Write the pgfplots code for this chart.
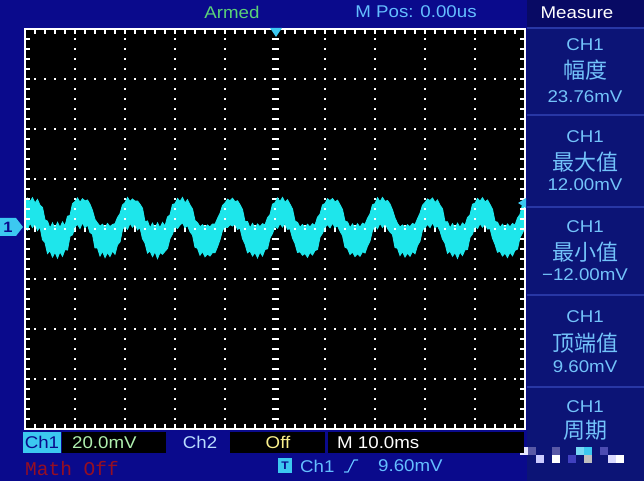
\documentclass[border=0pt]{standalone}
\usepackage{pgfplots}
\pgfplotsset{compat=1.18}
\usepackage{pgfplotstable}
\usepackage{fontspec}
\setmainfont[FakeStretch=1.1]{Liberation Sans}
\newfontfamily\cjk{Noto Sans CJK SC}
\newfontfamily\monof{Liberation Mono}

\definecolor{scopebg}{RGB}{10,10,140}
\definecolor{panelbg}{RGB}{12,20,118}
\definecolor{panelsep}{RGB}{40,55,165}
\definecolor{headbg}{RGB}{8,10,100}
\definecolor{trace}{RGB}{30,230,235}
\definecolor{chcyan}{RGB}{60,200,240}
\definecolor{ptext}{RGB}{115,195,250}
\definecolor{armed}{RGB}{90,210,120}
\definecolor{mpos}{RGB}{100,190,255}
\definecolor{vgreen}{RGB}{175,240,175}
\definecolor{offyel}{RGB}{250,240,140}
\definecolor{mathred}{RGB}{150,15,35}
\definecolor{ch2col}{RGB}{185,220,255}

% time (ms), upper and lower edge of the noisy trace (mV)
\pgfplotstableread{
t up lo
-50 10.2 1.9
-49.5 12.3 -0.3
-49 10.9 2.4
-48.5 12.5 0.6
-48 10.4 2.2
-47.5 11.8 -0.6
-47 9.5 0.9
-46.5 8.6 -4.3
-46 3.6 -5.4
-45.5 3.1 -9.8
-45 0.3 -8.7
-44.5 2.4 -11.2
-44 0.1 -9.3
-43.5 2.6 -11.6
-43 0.6 -9.1
-42.5 2.8 -10.9
-42 1.2 -8.2
-41.5 5.1 -8.4
-41 5.4 -2.9
-40.5 10.1 -2.3
-40 11.0 0.9
-39.5 12.4 1.9
-39 10.7 0.2
-38.5 12.1 2.6
-38 11.2 0.4
-37.5 11.6 1.7
-37 9.9 -1.4
-36.5 7.4 -2.1
-36 3.8 -7.6
-35.5 2.4 -7.6
-35 1.1 -10.8
-34.5 1.9 -8.9
-34 0.3 -11.4
-33.5 2.2 -9.4
-33 0.9 -11.0
-32.5 1.8 -8.8
-32 2.1 -10.1
-31.5 4.6 -6.3
-31 6.1 -5.2
-30.5 9.6 -0.2
-30 10.5 1.3
-29.5 12.6 -0.1
-29 11.0 2.3
-28.5 12.0 0.7
-28 11.1 2.1
-27.5 11.2 -0.3
-27 9.9 0.6
-26.5 8.3 -3.9
-26 2.9 -5.6
-25.5 3.2 -9.6
-25 0.4 -8.8
-24.5 2.3 -11.0
-24 0.2 -9.1
-23.5 2.4 -11.8
-23 0.5 -9.4
-22.5 2.6 -10.1
-22 1.2 -8.9
-21.5 4.8 -7.8
-21 5.6 -3.8
-20.5 9.8 -2.0
-20 10.1 1.0
-19.5 12.2 0.2
-19 11.0 1.6
-18.5 12.6 2.5
-18 10.4 0.5
-17.5 11.7 1.4
-17 9.6 -1.1
-16.5 8.0 -2.4
-16 3.4 -7.3
-15.5 2.5 -7.7
-15 0.9 -10.5
-14.5 1.7 -9.0
-14 0.6 -11.1
-13.5 1.6 -10.0
-13 0.8 -10.8
-12.5 2.0 -9.4
-12 1.9 -9.5
-11.5 4.2 -7.1
-11 6.2 -4.3
-10.5 9.4 -0.5
-10 10.4 0.8
-9.5 11.9 0.6
-9 11.3 1.7
-8.5 12.3 1.2
-8 10.9 2.1
-7.5 11.3 -0.1
-7 9.7 0.4
-6.5 7.8 -3.8
-6 3.0 -6.0
-5.5 3.0 -9.5
-5 0.4 -8.8
-4.5 2.2 -10.8
-4 0.2 -9.4
-3.5 2.0 -11.5
-3 0.9 -9.2
-2.5 2.1 -10.8
-2 1.6 -8.2
-1.5 4.5 -7.9
-1 5.7 -3.6
-0.5 9.9 -1.8
0 10.5 1.0
0.5 12.4 0.3
1 11.0 2.2
1.5 12.6 0.8
2 10.7 2.3
2.5 11.7 -0.1
3 9.9 0.1
3.5 8.0 -3.6
4 3.2 -5.8
4.5 2.6 -9.4
5 0.7 -9.1
5.5 1.8 -10.5
6 0.4 -9.8
6.5 1.9 -11.3
7 0.8 -9.3
7.5 2.1 -10.4
8 1.5 -8.6
8.5 4.7 -8.2
9 5.9 -3.2
9.5 9.6 -1.7
10 10.2 0.7
10.5 12.1 1.8
11 11.3 0.5
11.5 12.2 2.4
12 10.8 0.6
12.5 11.5 1.3
13 9.7 -0.9
13.5 7.8 -2.6
14 3.1 -7.3
14.5 2.8 -7.8
15 0.5 -10.2
15.5 2.0 -9.2
16 0.3 -11.0
16.5 2.1 -9.9
17 0.7 -10.9
17.5 2.3 -9.1
18 1.8 -9.6
18.5 4.3 -6.8
19 6.0 -4.8
19.5 9.7 -0.6
20 10.1 1.4
20.5 12.5 0.1
21 10.9 2.3
21.5 12.6 0.6
22 11.0 2.2
22.5 11.4 0.2
23 10.0 -1.2
23.5 7.6 -2.2
24 4.4 -7.4
24.5 2.2 -7.7
25 0.8 -10.6
25.5 1.6 -9.0
26 0.5 -11.2
26.5 1.7 -9.6
27 0.9 -10.9
27.5 2.2 -9.0
28 1.7 -9.9
28.5 4.1 -6.6
29 6.3 -4.9
29.5 9.5 -0.4
30 10.6 0.5
30.5 12.0 1.9
31 11.4 0.6
31.5 12.4 2.5
32 10.6 0.5
32.5 11.6 1.2
33 9.5 -0.8
33.5 8.1 -4.0
34 2.9 -5.7
34.5 2.9 -9.7
35 0.4 -8.9
35.5 2.1 -10.9
36 0.1 -9.4
36.5 2.3 -11.7
37 0.6 -9.2
37.5 2.4 -10.6
38 1.4 -8.3
38.5 4.6 -8.2
39 5.6 -3.3
39.5 9.9 -2.0
40 10.3 1.1
40.5 12.2 0.2
41 11.1 2.2
41.5 12.5 0.7
42 10.8 2.1
42.5 11.6 0.0
43 9.8 0.2
43.5 7.9 -3.7
44 3.0 -6.1
44.5 2.7 -9.3
45 0.6 -8.9
45.5 1.9 -10.8
46 0.3 -9.6
46.5 2.0 -11.4
47 0.8 -9.3
47.5 2.2 -10.7
48 1.5 -8.5
48.5 4.4 -8.0
49 5.8 -3.4
49.5 9.8 -1.6
50 10.4 0.9
}\tracetab

\begin{document}
\begin{tikzpicture}
% background and right measure panel
\begin{scope}[x=1pt,y=1pt]
\fill[scopebg] (0,0) rectangle (644,481);
\fill[panelbg] (527,0) rectangle (644,453);
\fill[headbg] (527,453) rectangle (644,481);
\foreach \yy in {453,366,274,186,94} {\draw[panelsep, line width=1.5pt] (527,\yy) -- (644,\yy);}
\end{scope}

% black screen with centre cross graticule ticks (below the trace)
\begin{axis}[at={(25pt,52pt)}, anchor=south west, scale only axis,
  width=500pt, height=400pt,
  xmin=-50, xmax=50, ymin=-80, ymax=80,
  axis background/.style={fill=black},
  axis lines=middle, axis line style={draw=none, -},
  xtick={-48,-46,...,48}, ytick={-76,-72,...,76},
  xticklabels={}, yticklabels={},
  tick align=center, major tick length=7pt,
  tick style={white, line width=1.5pt}]
\end{axis}

% trace, dotted grid and frame
\begin{axis}[at={(25pt,52pt)}, anchor=south west, scale only axis,
  width=500pt, height=400pt,
  xmin=-50, xmax=50, ymin=-80, ymax=80,
  axis on top,
  xtick={-50,-40,...,50}, ytick={-80,-60,...,80},
  minor x tick num=4, minor y tick num=4,
  xticklabels={}, yticklabels={},
  grid=major,
  major grid style={draw=white, line width=2pt, dash pattern=on 2pt off 8pt, dash phase=1pt},
  tick align=inside, tick pos=both,
  major tick length=5pt, minor tick length=5pt,
  tick style={white, line width=1.5pt},
  axis line style={white, line width=2pt}]
\addplot[draw=none, stack plots=y, forget plot] table[x=t, y=lo] {\tracetab};
\addplot[fill=trace, draw=trace, line width=0.9pt, stack plots=y]
  table[x=t, y expr=\thisrow{up}-\thisrow{lo}] {\tracetab} \closedcycle;
\end{axis}

\begin{scope}[x=1pt,y=1pt]
% markers
\fill[chcyan] (270,453) -- (282,453) -- (276,444) -- cycle;
\fill[chcyan] (0,263) -- (16,263) -- (23,254) -- (16,245) -- (0,245) -- cycle;
\node[text=scopebg, font=\bfseries\fontsize{15}{15}\selectfont] at (8,254) {1};
\fill[chcyan] (526,283) -- (526,273) -- (518,278) -- cycle;

% top line
\node[text=armed, font=\fontsize{17}{17}\selectfont] at (232,469) {Armed};
\node[text=mpos, font=\fontsize{17}{17}\selectfont] at (416,469) {M Pos: 0.00us};
\node[text=white, font=\fontsize{17}{17}\selectfont] at (577,468) {Measure};

% measure panel
\begin{scope}[every node/.style={text=ptext, font=\fontsize{17}{17}\selectfont}]
\node at (585,436) {CH1};
\node[font=\cjk\fontsize{22}{22}\selectfont] at (585,411) {幅度};
\node at (585,384) {23.76mV};
\node at (585,344) {CH1};
\node[font=\cjk\fontsize{22}{22}\selectfont] at (585,319) {最大值};
\node at (585,296) {12.00mV};
\node at (585,254) {CH1};
\node[font=\cjk\fontsize{22}{22}\selectfont] at (585,229) {最小值};
\node at (585,206) {−12.00mV};
\node at (585,164) {CH1};
\node[font=\cjk\fontsize{22}{22}\selectfont] at (585,138) {顶端值};
\node at (585,114) {9.60mV};
\node at (585,74) {CH1};
\node[font=\cjk\fontsize{22}{22}\selectfont] at (585,51) {周期};
\end{scope}
% pixelated area
\fill[white!90!blue] (520,26) rectangle (528,34);
\fill[gray!70!blue] (528,26) rectangle (536,34);
\fill[blue!30!gray] (552,26) rectangle (560,34);
\fill[chcyan!70!white] (576,26) rectangle (584,34);
\fill[chcyan] (584,26) rectangle (592,34);
\fill[gray!60!blue] (600,26) rectangle (608,34);
\fill[white!80!blue] (536,18) rectangle (544,26);
\fill[white] (552,18) rectangle (560,26);
\fill[blue!50!gray] (568,18) rectangle (576,26);
\fill[gray!50!white] (584,18) rectangle (592,26);
\fill[white!85!blue] (608,18) rectangle (616,26);
\fill[white] (616,18) rectangle (624,26);

% bottom status line
\fill[chcyan] (23,28) rectangle (61,49);
\node[text=scopebg, font=\fontsize{17}{17}\selectfont] at (42,38.5) {Ch1};
\fill[black] (62,28) rectangle (166,49);
\node[text=vgreen, font=\fontsize{17}{17}\selectfont, anchor=west, inner sep=0pt] at (72,38.5) {20.0mV};
\node[text=ch2col, font=\fontsize{17}{17}\selectfont] at (200,38.5) {Ch2};
\fill[black] (230,28) rectangle (325,49);
\node[text=offyel, font=\fontsize{17}{17}\selectfont] at (278,38.5) {Off};
\fill[black] (328,28) rectangle (524,49);
\node[text=white, font=\fontsize{17}{17}\selectfont, anchor=west, inner sep=0pt] at (337,38.5) {M 10.0ms};
\node[text=mathred, font=\monof\fontsize{19.5}{19.5}\selectfont, anchor=west, inner sep=0pt] at (25,12) {Math Off};
\fill[chcyan] (278,8) rectangle (292,23);
\node[text=scopebg, font=\bfseries\fontsize{11}{11}\selectfont] at (285,15.5) {T};
\node[text=mpos, font=\fontsize{17}{17}\selectfont, anchor=west, inner sep=0pt] at (300,15) {Ch1};
\draw[mpos, line width=1.3pt] (344,9) -- (348,9) -- (354,21) -- (358,21);
\node[text=mpos, font=\fontsize{17}{17}\selectfont, anchor=west, inner sep=0pt] at (378,15) {9.60mV};

\pgfresetboundingbox
\path[use as bounding box] (0,0) rectangle (644,481);
\end{scope}
\end{tikzpicture}
\end{document}
